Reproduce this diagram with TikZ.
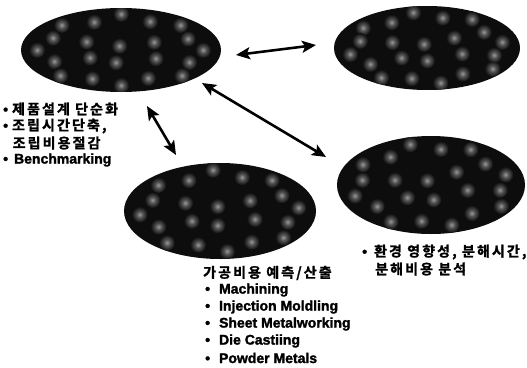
\documentclass[tikz,border=0pt]{standalone}
\usepackage{fontspec}
\setmainfont{Liberation Sans}[BoldFeatures={FakeBold=1.8}]
\newfontfamily\kr{Noto Sans CJK KR}[BoldFont={Noto Sans CJK KR Bold}, BoldFeatures={FakeBold=1.5}, LetterSpace=15]
\usetikzlibrary{shapes.geometric,arrows.meta,calc}
\pgfdeclareradialshading{spot}{\pgfpointorigin}{color(0bp)=(black!40); color(10bp)=(black!68); color(25bp)=(black!95); color(50bp)=(black!95)}
\tikzset{
  blob/.style n args={3}{shape=ellipse, inner sep=0pt, minimum width=#1, minimum height=#2,
    fill=black!95, path picture={
      \shade[shading=spot] (path picture bounding box.center) circle (0.1pt);
      \foreach \a/\r in {0/0.82,22/0.72,45/0.84,67/0.74,90/0.86,112/0.72,135/0.84,157/0.74,
                         180/0.84,202/0.72,225/0.86,247/0.74,270/0.84,292/0.72,315/0.86,337/0.74,
                         30/0.38,150/0.4,210/0.36,330/0.4,100/0.1,260/0.3}{
        \shade[shading=spot]
          ($(path picture bounding box.center)+({\a+#3}:{\r*#1/2} and {\r*#2/2})$) circle (8pt);
      }}},
  txt/.style={anchor=west, inner sep=0pt, font=\fontsize{14}{16}\selectfont\bfseries},
  conn/.style={{Stealth[length=14pt,width=12pt,inset=3pt]}-{Stealth[length=14pt,width=12pt,inset=3pt]}, line width=2.6pt}
}
\begin{document}
\begin{tikzpicture}[x=1pt,y=-1pt]
\useasboundingbox (0,0) rectangle (527,367);
\shade[shading=spot] (-40,-40) circle (1pt);
% ellipses
\node[blob={200pt}{84pt}{0}] (A) at (121,50) {};
\node[blob={186pt}{84pt}{10}] (B) at (427,48) {};
\node[blob={192pt}{96pt}{5}] (C) at (220,211) {};
\node[blob={188pt}{98pt}{15}] (D) at (431,185) {};
% arrow end points
\coordinate (ab1) at (236,55);
\coordinate (ab2) at (316,45);
\coordinate (ad1) at (202,83);
\coordinate (ad2) at (326,157);
\coordinate (ac1) at (147,106);
\coordinate (ac2) at (176,155);
\draw[conn] (ab1) -- (ab2);
\draw[conn] (ad1) -- (ad2);
\draw[conn] (ac1) -- (ac2);
% left texts
\node[txt] (l1) at (3,109) {\textbullet\hspace{4pt}{\kr 제품설계 단순화}};
\node[txt] (l2) at (3,126) {\textbullet\hspace{4pt}{\kr 조립시간단축,}};
\node[txt] (l3) at (12.5,143) {\kr 조립비용절감};
\node[txt] (l4) at (3,160) {\textbullet\hspace{6pt}Benchmarking};
% bottom texts
\node[txt] (b0) at (203,273) {\kr 가공비용 예측/산출};
\node[txt] (b1) at (205,290) {\textbullet\hspace{9pt}Machining};
\node[txt] (b2) at (205,307) {\textbullet\hspace{9pt}Injection Moldling};
\node[txt] (b3) at (205,324) {\textbullet\hspace{9pt}Sheet Metalworking};
\node[txt] (b4) at (205,341) {\textbullet\hspace{9pt}Die Castiing};
\node[txt] (b5) at (205,358) {\textbullet\hspace{9pt}Powder Metals};
% right texts
\node[txt] (r1) at (362,252) {\textbullet\hspace{7pt}{\kr 환경 영향성, 분해시간,}};
\node[txt] (r2) at (375,269) {\kr 분해비용 분석};
\end{tikzpicture}
\end{document}
